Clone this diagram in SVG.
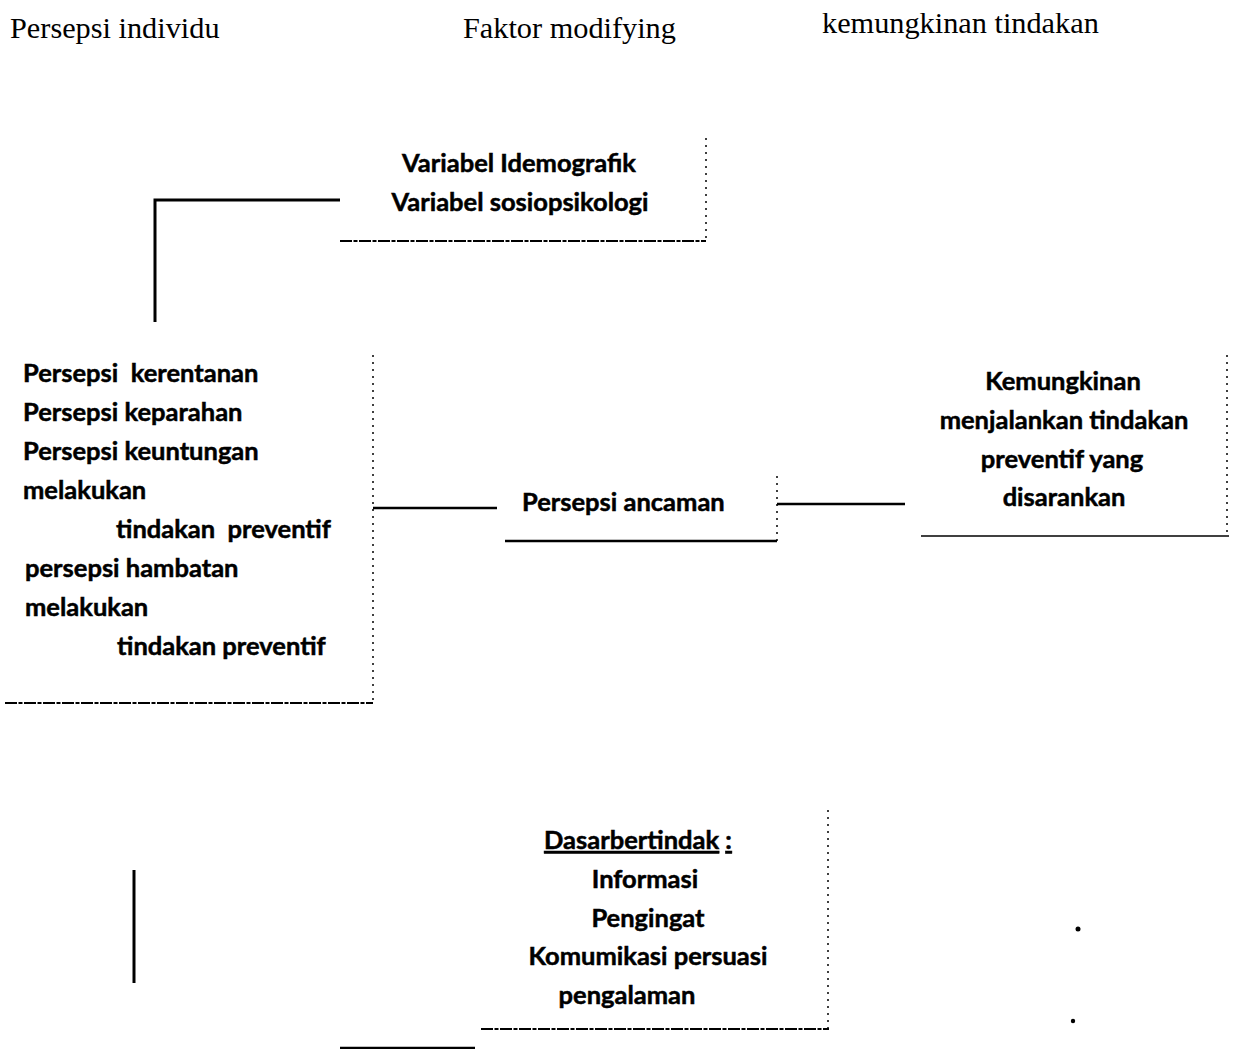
<svg xmlns="http://www.w3.org/2000/svg" width="1236" height="1049" viewBox="0 0 1236 1049">
<style>
.hdr{font-family:"Liberation Serif","Times New Roman",serif;font-size:30.3px;fill:#000}
.t{font-family:Lato,"Liberation Sans",sans-serif;font-weight:bold;font-size:25.5px;fill:#000;stroke:#000;stroke-width:0.5}
.c{text-anchor:middle}
.ln{stroke:#000;stroke-width:2.5;fill:none}
.dot{stroke:#000;stroke-width:1.5;fill:none;stroke-dasharray:2 5}
.dash{stroke:#000;stroke-width:2;fill:none;stroke-dasharray:12 1.5 4 1.5}
</style>
<rect width="1236" height="1049" fill="#fff"/>
<g id="headers">
<text class="hdr" x="10" y="38">Persepsi individu</text>
<text class="hdr" x="463" y="38">Faktor modifying</text>
<text class="hdr" x="822" y="33">kemungkinan tindakan</text>
</g>
<g id="node-variabel">
<path class="dot" d="M706,138 V241"/>
<path class="dash" d="M340,241 H706"/>
<text class="t c" x="519" y="172">Variabel Idemografik</text>
<text class="t c" x="520" y="211">Variabel sosiopsikologi</text>
</g>
<g id="node-persepsi-individu">
<path class="dot" d="M373,355 V703"/>
<path class="dash" d="M5,703 H373"/>
<text class="t" x="23" y="382" xml:space="preserve">Persepsi  kerentanan</text>
<text class="t" x="23" y="421">Persepsi keparahan</text>
<text class="t" x="23" y="460">Persepsi keuntungan</text>
<text class="t" x="23" y="499">melakukan</text>
<text class="t" x="116" y="538" xml:space="preserve">tindakan  preventif</text>
<text class="t" x="25" y="577">persepsi hambatan</text>
<text class="t" x="25" y="616">melakukan</text>
<text class="t" x="117" y="655">tindakan preventif</text>
</g>
<g id="node-ancaman">
<path class="dot" d="M777,476 V541"/>
<path class="ln" d="M505,541 H777"/>
<text class="t" x="522" y="511">Persepsi ancaman</text>
</g>
<g id="node-kemungkinan">
<path class="dot" d="M1227,355 V535"/>
<path class="ln" d="M921,536 H1229" style="stroke-width:1.5"/>
<text class="t c" x="1063" y="390">Kemungkinan</text>
<text class="t c" x="1064" y="429">menjalankan tindakan</text>
<text class="t c" x="1062" y="468">preventif yang</text>
<text class="t c" x="1064" y="506">disarankan</text>
</g>
<g id="node-dasar">
<path class="dot" d="M828,810 V1030"/>
<path class="dash" d="M481,1029 H829"/>
<text class="t c" x="638" y="849"><tspan text-decoration="underline">Dasarbertindak</tspan> <tspan text-decoration="underline">:</tspan></text>
<text class="t c" x="645" y="888">Informasi</text>
<text class="t c" x="648" y="927">Pengingat</text>
<text class="t c" x="648" y="965">Komumikasi persuasi</text>
<text class="t c" x="627" y="1004">pengalaman</text>
</g>
<g id="connectors">
<path class="ln" d="M155,322 V200 H340" style="stroke-width:3"/>
<path class="ln" d="M373,508 H497"/>
<path class="ln" d="M777,504 H905"/>
<path class="ln" d="M134,870 V983" style="stroke-width:3"/>
<path class="ln" d="M340,1048 H475"/>
<circle cx="1078" cy="929" r="2.5" fill="#000"/>
<circle cx="1073" cy="1021" r="2.2" fill="#000"/>
</g>
</svg>
